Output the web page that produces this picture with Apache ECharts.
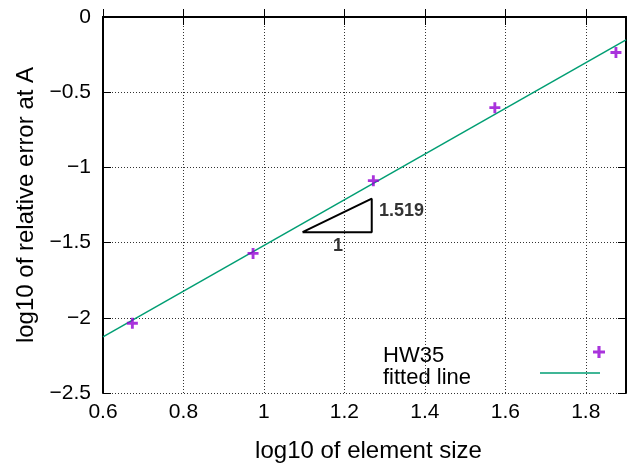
<!DOCTYPE html>
<html>
<head>
<meta charset="utf-8">
<script src="https://cdn.jsdelivr.net/npm/echarts@6/dist/echarts.min.js"></script>
<style>
html,body{margin:0;padding:0;background:#fff;}
#chart{width:627px;height:468px;}
</style>
</head>
<body>
<div id="chart"></div>
<script>
// Measured data (log10 of element size, log10 of relative error at A)
const hwX = [0.673, 0.973, 1.272, 1.574, 1.875];
const hwY = [-2.036, -1.572, -1.088, -0.603, -0.236];
// Fitted line endpoints (slope 1.519)
const fitX = [0.6, 1.9];
const fitY = [-2.127, -0.152];
// Slope triangle
const triX = [1.096, 1.268, 1.268, 1.096];
const triY = [-1.431, -1.431, -1.208, -1.431];
// Annotation labels
const noteText = ['1.519', '1'];
const noteX = [1.342, 1.184];
const noteY = [-1.293, -1.52];
// Tick settings
const xMin = 0.6, xMax = 1.9, xStep = 0.2;
const yMin = -2.5, yMax = 0, yStep = 0.5;

const FONT = 'Liberation Sans, Arial, sans-serif';
const plusPath = 'path://M3.7,0H6.3V3.7H10V6.3H6.3V10H3.7V6.3H0V3.7H3.7Z';
const linePath = 'path://M0,0H60V1.5H0Z';
const fmtNum = v => (v < 0 ? '\u2212' + String(Math.abs(+v.toFixed(3))) : String(+v.toFixed(3)));

const gridLine = {show: true, lineStyle: {color: '#333', width: 1, type: [1, 2]}};
const axisLine = {show: true, lineStyle: {color: '#000', width: 2}};
const tick = {show: true, inside: true, length: 8, lineStyle: {color: '#000', width: 1}};
const legendText = {fontSize: 22, color: '#000', fontFamily: FONT};

const chart = echarts.init(document.getElementById('chart'), null, {renderer: 'canvas'});
chart.setOption({
  animation: false,
  backgroundColor: '#fff',
  textStyle: {fontFamily: FONT},
  grid: {left: 103, top: 17, width: 523, height: 377, containLabel: false},
  xAxis: [{
    type: 'value', min: xMin, max: xMax, interval: xStep, position: 'bottom',
    name: 'log10 of element size', nameLocation: 'middle', nameGap: 46,
    nameTextStyle: {fontSize: 24, color: '#000', fontFamily: FONT, padding: [0, 0, 0, 8]},
    axisLine: axisLine, axisTick: tick, splitLine: gridLine,
    axisLabel: {fontSize: 21, color: '#000', margin: 9, showMaxLabel: false, formatter: fmtNum, fontFamily: FONT}
  }, {
    type: 'value', min: xMin, max: xMax, interval: xStep, position: 'top',
    axisLine: axisLine, axisTick: tick, splitLine: {show: false}, axisLabel: {show: false}
  }],
  yAxis: [{
    type: 'value', min: yMin, max: yMax, interval: yStep, position: 'left',
    name: 'log10 of relative error at A', nameLocation: 'middle', nameGap: 62,
    nameTextStyle: {fontSize: 24, color: '#000', fontFamily: FONT},
    axisLine: axisLine, axisTick: tick, splitLine: gridLine,
    axisLabel: {fontSize: 21, color: '#000', margin: 12, formatter: fmtNum, fontFamily: FONT}
  }, {
    type: 'value', min: yMin, max: yMax, interval: yStep, position: 'right',
    axisLine: axisLine, axisTick: tick, splitLine: {show: false}, axisLabel: {show: false}
  }],
  legend: [{
    data: [{name: 'HW35', icon: 'none'}],
    left: 378, top: 345, padding: 0, itemWidth: 0, itemHeight: 14,
    textStyle: legendText
  }, {
    data: [{name: 'HW35', icon: plusPath}],
    left: 593, top: 346, padding: 0, itemWidth: 12, itemHeight: 12,
    formatter: () => '', textStyle: legendText
  }, {
    data: [{name: 'fitted line', icon: 'none'}],
    left: 378, top: 367, padding: 0, itemWidth: 0, itemHeight: 14,
    textStyle: legendText
  }, {
    data: [{name: 'fitted line', icon: linePath}],
    left: 540, top: 366, padding: 0, itemWidth: 60, itemHeight: 14,
    formatter: () => '', textStyle: legendText
  }],
  series: [{
    name: 'HW35', type: 'scatter', symbol: plusPath, symbolSize: 11,
    itemStyle: {color: '#9400d3'},
    data: hwX.map((x, i) => [x, hwY[i]]), z: 5
  }, {
    name: 'fitted line', type: 'line', symbol: 'none',
    lineStyle: {color: '#009e73', width: 1.5}, itemStyle: {color: '#009e73'},
    data: fitX.map((x, i) => [x, fitY[i]]), z: 4
  }, {
    name: 'triangle', type: 'line', symbol: 'none', silent: true,
    lineStyle: {color: '#000', width: 2}, legendHoverLink: false,
    data: triX.map((x, i) => [x, triY[i]]), z: 4
  }, {
    name: 'notes', type: 'scatter', symbolSize: 0, silent: true,
    label: {show: true, position: 'inside', formatter: p => p.data.name,
      fontSize: 18, fontWeight: 'bold', color: '#000', fontFamily: FONT},
    data: noteX.map((x, i) => ({name: noteText[i], value: [x, noteY[i]]})), z: 6
  }]
});
</script>
</body>
</html>
